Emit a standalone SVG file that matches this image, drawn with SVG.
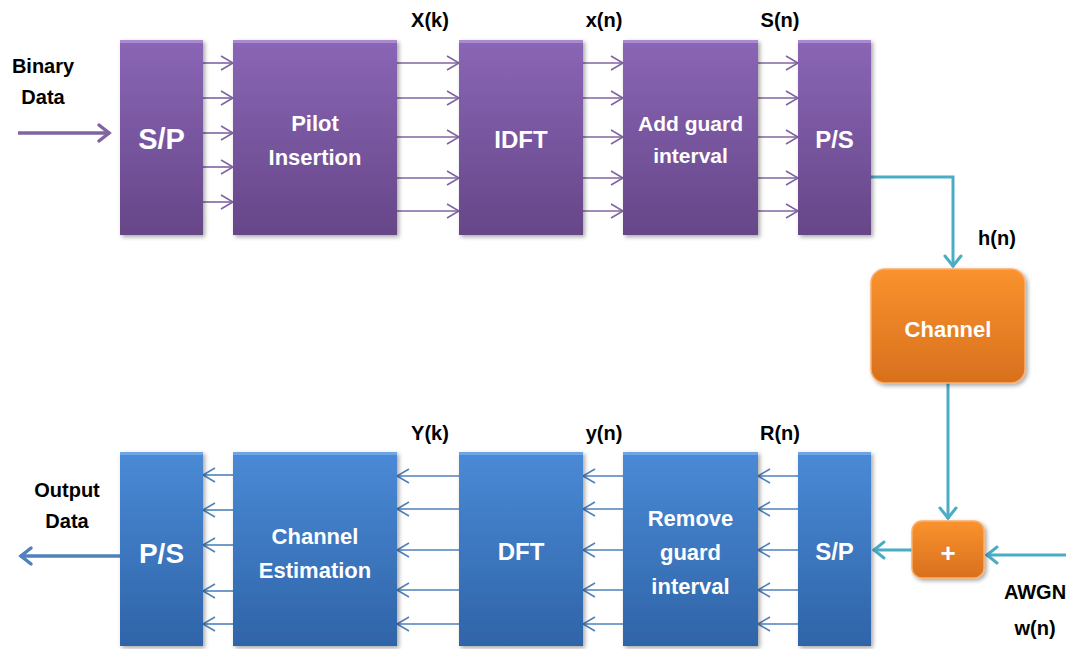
<svg xmlns="http://www.w3.org/2000/svg" width="1073" height="649" viewBox="0 0 1073 649">
<style>
.bt{font-family:"Liberation Sans",Arial,sans-serif;font-weight:bold;fill:#ffffff;text-anchor:middle}
.lb{font-family:"Liberation Sans",Arial,sans-serif;font-weight:bold;fill:#000000;text-anchor:middle;font-size:20px}
.pa{stroke:#8064a2;stroke-width:1.6;fill:none}
.ba{stroke:#4f81bd;stroke-width:1.6;fill:none}
.ta{stroke:#4bacc6;stroke-width:3;fill:none}
.hp{fill:#b89ad8;opacity:0.7}
.hb{fill:#7fb0ee;opacity:0.7}
</style>
<defs>
<linearGradient id="gp" x1="0" y1="0" x2="0" y2="1">
<stop offset="0" stop-color="#8a66b6"/><stop offset="1" stop-color="#664688"/>
</linearGradient>
<linearGradient id="gb" x1="0" y1="0" x2="0" y2="1">
<stop offset="0" stop-color="#4a8ad6"/><stop offset="1" stop-color="#2f64a8"/>
</linearGradient>
<linearGradient id="go" x1="0" y1="0" x2="0" y2="1">
<stop offset="0" stop-color="#fa922e"/><stop offset="1" stop-color="#d8701e"/>
</linearGradient>
<filter id="sh" x="-10%" y="-10%" width="130%" height="130%">
<feDropShadow dx="2" dy="2" stdDeviation="2" flood-color="#000" flood-opacity="0.35"/>
</filter>
<marker id="mp" markerUnits="userSpaceOnUse" markerWidth="16" markerHeight="18" viewBox="-14 -9 16 18" refX="0" refY="0" orient="auto" overflow="visible">
<path d="M-12,-7 L0,0 L-12,7" fill="none" stroke="#8064a2" stroke-width="1.6"/>
</marker>
<marker id="mb" markerUnits="userSpaceOnUse" markerWidth="16" markerHeight="18" viewBox="-14 -9 16 18" refX="0" refY="0" orient="auto" overflow="visible">
<path d="M-12,-7 L0,0 L-12,7" fill="none" stroke="#4f81bd" stroke-width="1.6"/>
</marker>
<marker id="mpt" markerUnits="userSpaceOnUse" markerWidth="16" markerHeight="20" viewBox="-14 -10 16 20" refX="0" refY="0" orient="auto" overflow="visible">
<path d="M-11,-8 L-1,0 L-11,8" fill="none" stroke="#8064a2" stroke-width="3.5" stroke-linecap="round"/>
</marker>
<marker id="mbt" markerUnits="userSpaceOnUse" markerWidth="16" markerHeight="20" viewBox="-14 -10 16 20" refX="0" refY="0" orient="auto" overflow="visible">
<path d="M-11,-8 L-1,0 L-11,8" fill="none" stroke="#4f81bd" stroke-width="3.5" stroke-linecap="round"/>
</marker>
<marker id="mt" markerUnits="userSpaceOnUse" markerWidth="16" markerHeight="20" viewBox="-14 -10 16 20" refX="0" refY="0" orient="auto" overflow="visible">
<path d="M-11,-8 L-1,0 L-11,8" fill="none" stroke="#4bacc6" stroke-width="3" stroke-linecap="round"/>
</marker>
</defs>

<g id="connectors">
<path class="pa" d="M18,133 H110" style="stroke-width:3.5" marker-end="url(#mpt)"/>
<g marker-end="url(#mp)">
<path class="pa" d="M203,63 H233"/><path class="pa" d="M203,98 H233"/><path class="pa" d="M203,133 H233"/><path class="pa" d="M203,167 H233"/><path class="pa" d="M203,202 H233"/>
<path class="pa" d="M397,63 H459"/><path class="pa" d="M397,98 H459"/><path class="pa" d="M397,137 H459"/><path class="pa" d="M397,178 H459"/><path class="pa" d="M397,211 H459"/>
<path class="pa" d="M583,63 H623"/><path class="pa" d="M583,98 H623"/><path class="pa" d="M583,137 H623"/><path class="pa" d="M583,178 H623"/><path class="pa" d="M583,211 H623"/>
<path class="pa" d="M758,63 H798"/><path class="pa" d="M758,98 H798"/><path class="pa" d="M758,137 H798"/><path class="pa" d="M758,178 H798"/><path class="pa" d="M758,211 H798"/>
</g>
<g marker-end="url(#mb)">
<path class="ba" d="M233,475 H203"/><path class="ba" d="M233,510 H203"/><path class="ba" d="M233,545 H203"/><path class="ba" d="M233,591 H203"/><path class="ba" d="M233,624 H203"/>
<path class="ba" d="M459,476 H397"/><path class="ba" d="M459,509 H397"/><path class="ba" d="M459,550 H397"/><path class="ba" d="M459,590 H397"/><path class="ba" d="M459,624 H397"/>
<path class="ba" d="M623,476 H583"/><path class="ba" d="M623,509 H583"/><path class="ba" d="M623,550 H583"/><path class="ba" d="M623,590 H583"/><path class="ba" d="M623,624 H583"/>
<path class="ba" d="M798,476 H758"/><path class="ba" d="M798,509 H758"/><path class="ba" d="M798,550 H758"/><path class="ba" d="M798,590 H758"/><path class="ba" d="M798,624 H758"/>
</g>
<path class="ba" d="M120,556 H20" style="stroke-width:3.5" marker-end="url(#mbt)"/>
<path class="ta" d="M871,177 H953 V267" marker-end="url(#mt)"/>
<path class="ta" d="M948,383 V519" marker-end="url(#mt)"/>
<path class="ta" d="M1066,555 H986" marker-end="url(#mt)"/>
<path class="ta" d="M912,550 H873" marker-end="url(#mt)"/>
</g>

<g id="tx-sp">
<rect x="120" y="40" width="83" height="195" fill="url(#gp)" filter="url(#sh)"/>
<rect class="hp" x="120" y="40" width="83" height="3"/>
<text class="bt" x="161.5" y="149" font-size="29">S/P</text>
</g>
<g id="tx-pilot">
<rect x="233" y="40" width="164" height="195" fill="url(#gp)" filter="url(#sh)"/>
<rect class="hp" x="233" y="40" width="164" height="3"/>
<text class="bt" x="315" y="131" font-size="22">Pilot</text>
<text class="bt" x="315" y="165" font-size="22">Insertion</text>
</g>
<g id="tx-idft">
<rect x="459" y="40" width="124" height="195" fill="url(#gp)" filter="url(#sh)"/>
<rect class="hp" x="459" y="40" width="124" height="3"/>
<text class="bt" x="521" y="148" font-size="24">IDFT</text>
</g>
<g id="tx-guard">
<rect x="623" y="40" width="135" height="195" fill="url(#gp)" filter="url(#sh)"/>
<rect class="hp" x="623" y="40" width="135" height="3"/>
<text class="bt" x="690.5" y="131" font-size="21">Add guard</text>
<text class="bt" x="690.5" y="163" font-size="21">interval</text>
</g>
<g id="tx-ps">
<rect x="798" y="40" width="73" height="195" fill="url(#gp)" filter="url(#sh)"/>
<rect class="hp" x="798" y="40" width="73" height="3"/>
<text class="bt" x="834.5" y="148" font-size="24">P/S</text>
</g>

<g id="channel">
<rect x="871" y="269" width="154" height="114" rx="14" fill="url(#go)" stroke="#fbae6a" stroke-width="1.5" filter="url(#sh)"/>
<text class="bt" x="948" y="337" font-size="22">Channel</text>
</g>
<g id="adder">
<rect x="912" y="521" width="72" height="57" rx="10" fill="url(#go)" stroke="#fbae6a" stroke-width="1.5" filter="url(#sh)"/>
<text class="bt" x="948" y="562" font-size="26">+</text>
</g>

<g id="rx-sp">
<rect x="798" y="452" width="73" height="194" fill="url(#gb)" filter="url(#sh)"/>
<rect class="hb" x="798" y="452" width="73" height="3"/>
<text class="bt" x="834.5" y="560" font-size="24">S/P</text>
</g>
<g id="rx-guard">
<rect x="623" y="452" width="135" height="194" fill="url(#gb)" filter="url(#sh)"/>
<rect class="hb" x="623" y="452" width="135" height="3"/>
<text class="bt" x="690.5" y="526" font-size="22">Remove</text>
<text class="bt" x="690.5" y="560" font-size="22">guard</text>
<text class="bt" x="690.5" y="594" font-size="22">interval</text>
</g>
<g id="rx-dft">
<rect x="459" y="452" width="124" height="194" fill="url(#gb)" filter="url(#sh)"/>
<rect class="hb" x="459" y="452" width="124" height="3"/>
<text class="bt" x="521" y="560" font-size="24">DFT</text>
</g>
<g id="rx-est">
<rect x="233" y="452" width="164" height="194" fill="url(#gb)" filter="url(#sh)"/>
<rect class="hb" x="233" y="452" width="164" height="3"/>
<text class="bt" x="315" y="544" font-size="22">Channel</text>
<text class="bt" x="315" y="578" font-size="22">Estimation</text>
</g>
<g id="rx-ps">
<rect x="120" y="452" width="83" height="194" fill="url(#gb)" filter="url(#sh)"/>
<rect class="hb" x="120" y="452" width="83" height="3"/>
<text class="bt" x="161.5" y="563" font-size="28">P/S</text>
</g>

<g id="labels">
<text class="lb" x="43" y="73">Binary</text>
<text class="lb" x="43" y="104">Data</text>
<text class="lb" x="430" y="27">X(k)</text>
<text class="lb" x="604" y="27">x(n)</text>
<text class="lb" x="780" y="27">S(n)</text>
<text class="lb" x="997" y="245">h(n)</text>
<text class="lb" x="430" y="440">Y(k)</text>
<text class="lb" x="604" y="440">y(n)</text>
<text class="lb" x="780" y="440">R(n)</text>
<text class="lb" x="67" y="497">Output</text>
<text class="lb" x="67" y="528">Data</text>
<text class="lb" x="1035" y="599">AWGN</text>
<text class="lb" x="1035" y="635">w(n)</text>
</g>
</svg>
